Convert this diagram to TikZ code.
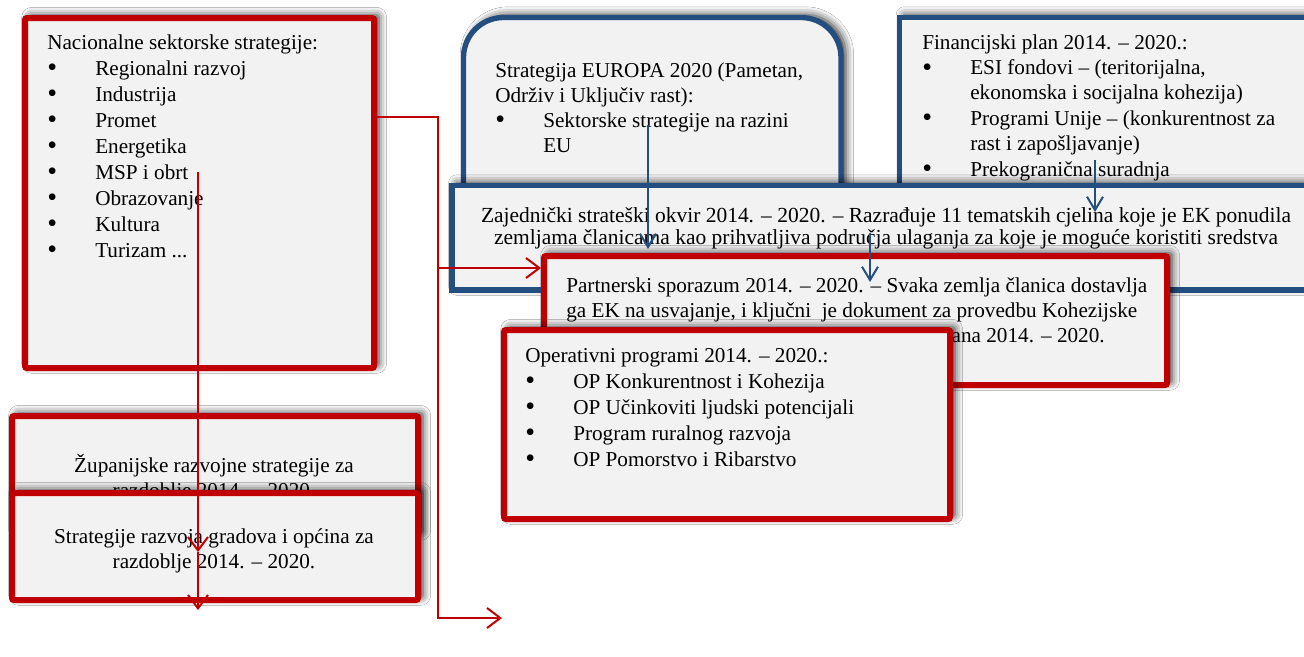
\documentclass[tikz,border=0pt]{standalone}
\usepackage{fontspec}
\setmainfont{Liberation Serif}
\usetikzlibrary{arrows.meta,fit,shadows.blur}
\definecolor{boxred}{RGB}{192,0,0}
\definecolor{boxblue}{RGB}{36,77,128}
\definecolor{boxfill}{RGB}{242,242,242}
\newcommand{\bl}{\makebox[36pt][l]{\raisebox{-1.2pt}{\fontsize{21}{21}\selectfont\textbullet}}}
\tikzset{
  x=0.75pt, y=-0.75pt,
  box/.style={fill=boxfill, inner sep=0pt,
    blur shadow={shadow xshift=3.5pt, shadow yshift=2pt, shadow blur radius=6pt, shadow opacity=85}},
  redbox/.style={box, draw=boxred, line width=4.5pt, rounded corners=1.5pt},
  bluebox/.style={box, draw=boxblue, line width=4pt},
  txt/.style={inner sep=0pt, anchor=base west, align=left, font=\fontsize{15.9}{19.5}\selectfont},
  ctxt/.style={inner sep=0pt, anchor=base, align=center, font=\fontsize{15.9}{19.5}\selectfont},
  redarrow/.style={draw=boxred, line width=1.5pt,
    -{Straight Barb[length=10pt, width=15pt, line width=1.5pt]}},
  bluearrow/.style={draw=boxblue, line width=1.5pt,
    -{Straight Barb[length=10pt, width=12pt, line width=1.5pt]}},
}
\begin{document}
\begin{tikzpicture}
\useasboundingbox (0,0) rectangle (1304,657);
\fill[white] (0,0) rectangle (1304,657);
\clip (0,0) rectangle (1304,657);

% --- Strategija EUROPA 2020
\node[bluebox, rounded corners=30pt, fit={(463.5,17.5)(841,240)}] (eu) {};
\node[txt] (euT) at (495,77) {\fontsize{15.9}{18.75}\selectfont
  \begin{tabular}[t]{@{}l@{}}Strategija EUROPA 2020 (Pametan,\\ Održiv i Uključiv rast):\\
  \bl Sektorske strategije na razini\\ \hspace*{36pt}EU\end{tabular}};

% --- Financijski plan
\node[bluebox, fit={(899.5,17.5)(1330,240)}] (fin) {};
\node[txt] (finT) at (922,49) {\fontsize{15.9}{19.05}\selectfont
  \begin{tabular}[t]{@{}l@{}}Financijski plan 2014. – 2020.:\\
  \bl ESI fondovi – (teritorijalna,\\ \hspace*{36pt}ekonomska i socijalna kohezija)\\
  \bl Programi Unije – (konkurentnost za\\ \hspace*{36pt}rast i zapošljavanje)\\
  \bl Prekogranična suradnja\end{tabular}};

% --- Zajednicki strateski okvir
\node[bluebox, fit={(452,185.5)(1330,290)}] (zso) {};
\node[ctxt] (zsoT) at (886,222) {\fontsize{16.1}{16.5}\selectfont
  \begin{tabular}[t]{@{}c@{}}Zajednički strateški okvir 2014. – 2020. – Razrađuje 11 tematskih cjelina koje je EK ponudila\\
  zemljama članicama kao prihvatljiva područja ulaganja za koje je moguće koristiti sredstva\end{tabular}};

% --- Partnerski sporazum
\node[redbox, fit={(544,256)(1167,385)}] (ps) {};
\node[txt] (psT) at (566,292) {\fontsize{15.9}{18.75}\selectfont
  \begin{tabular}[t]{@{}l@{}}Partnerski sporazum 2014. – 2020. – Svaka zemlja članica dostavlja\\
  ga EK na usvajanje, i ključni\ \ je dokument za provedbu Kohezijske\end{tabular}};
\node[inner sep=0pt, anchor=base east, font=\fontsize{15.9}{18.75}\selectfont] (psT3) at (1105,342) {ana 2014. – 2020.};

% --- Operativni programi
\node[redbox, fit={(504,330)(950,519)}] (op) {};
\node[txt] (opT) at (525,362) {
  \begin{tabular}[t]{@{}l@{}}Operativni programi 2014. – 2020.:\\
  \bl OP Konkurentnost i Kohezija\\
  \bl OP Učinkoviti ljudski potencijali\\
  \bl Program ruralnog razvoja\\
  \bl OP Pomorstvo i Ribarstvo\end{tabular}};

% --- Nacionalne sektorske strategije
\node[redbox, fit={(25,18)(374,368)}] (nac) {};
\node[txt] (nacT) at (47,49) {
  \begin{tabular}[t]{@{}l@{}}Nacionalne sektorske strategije:\\
  \bl Regionalni razvoj\\ \bl Industrija\\ \bl Promet\\ \bl Energetika\\
  \bl MSP i obrt\\ \bl Obrazovanje\\ \bl Kultura\\ \bl Turizam ...\end{tabular}};

% --- Zupanijske
\node[redbox, fit={(12,416)(418,535)}] (zup) {};
\node[ctxt] (zupT) at (214,472) {\fontsize{15.9}{18.75}\selectfont
  \begin{tabular}[t]{@{}c@{}}Županijske razvojne strategije za\\ razdoblje 2014. – 2020.\end{tabular}};

% --- Strategije razvoja gradova
\node[redbox, fit={(12,493)(418,600)}] (grad) {};
\node[ctxt] (gradT) at (214,543) {\fontsize{15.9}{18.75}\selectfont
  \begin{tabular}[t]{@{}c@{}}Strategije razvoja gradova i općina za\\ razdoblje 2014. – 2020.\end{tabular}};

% --- connectors
\coordinate (j1) at (438,117);
\coordinate (j3) at (438,268);
\coordinate (j2) at (438,618);
\coordinate (e2) at (502,618);
\draw[redarrow] (nac.east |- j1) -- (j1) -- (j2) -- (e2);
\draw[redarrow] (j3) -- (ps.west |- j3);

\coordinate (v1) at (198,172);
\coordinate (v2) at (198,552);
\coordinate (v3) at (198,610);
\draw[redarrow] (v1) -- (v2);
\draw[redarrow] (v2) -- (v3);

\coordinate (b1) at (648,125);
\coordinate (b2) at (648,249);
\draw[bluearrow] (b1) -- (b2);
\coordinate (b3) at (1095,160);
\coordinate (b4) at (1095,212);
\draw[bluearrow] (b3) -- (b4);
\coordinate (b5) at (870,233);
\coordinate (b6) at (870,282);
\draw[bluearrow] (b5) -- (b6);
\end{tikzpicture}
\end{document}
